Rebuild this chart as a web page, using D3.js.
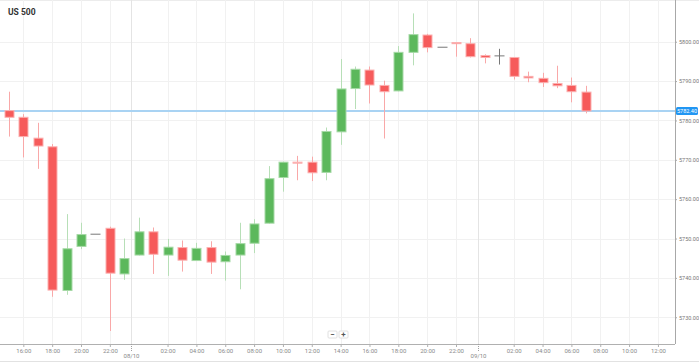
<!DOCTYPE html>
<html>
<head>
<meta charset="utf-8">
<script src="https://cdn.jsdelivr.net/npm/d3@7"></script>
<style>
  body { margin: 0; background: #fff; }
  svg { display: block; font-family: Roboto, "Liberation Sans", Arial, sans-serif; }
</style>
</head>
<body>
<svg id="chart" width="699" height="363"></svg>
<script>
"use strict";

// hourly candles, US 500
const times = [
  "2024-10-07T15:00", "2024-10-07T16:00", "2024-10-07T17:00", "2024-10-07T18:00",
  "2024-10-07T19:00", "2024-10-07T20:00", "2024-10-07T21:00", "2024-10-07T22:00",
  "2024-10-07T23:00", "2024-10-08T00:00", "2024-10-08T01:00", "2024-10-08T02:00",
  "2024-10-08T03:00", "2024-10-08T04:00", "2024-10-08T05:00", "2024-10-08T06:00",
  "2024-10-08T07:00", "2024-10-08T08:00", "2024-10-08T09:00", "2024-10-08T10:00",
  "2024-10-08T11:00", "2024-10-08T12:00", "2024-10-08T13:00", "2024-10-08T14:00",
  "2024-10-08T15:00", "2024-10-08T16:00", "2024-10-08T17:00", "2024-10-08T18:00",
  "2024-10-08T19:00", "2024-10-08T20:00", "2024-10-08T21:00", "2024-10-08T22:00",
  "2024-10-08T23:00", "2024-10-09T00:00", "2024-10-09T01:00", "2024-10-09T02:00",
  "2024-10-09T03:00", "2024-10-09T04:00", "2024-10-09T05:00", "2024-10-09T06:00",
  "2024-10-09T07:00",
];
const opens = [
  5782.5, 5780.8, 5775.5, 5773.3, 5736.8, 5748.0, 5751.1, 5752.6, 5741.0, 5745.8,
  5751.7, 5745.8, 5747.7, 5744.4, 5747.7, 5744.1, 5745.8, 5748.8, 5753.9, 5765.5,
  5769.4, 5769.4, 5766.8, 5777.1, 5788.1, 5792.8, 5788.9, 5787.5, 5797.3, 5801.7,
  5798.6, 5799.8, 5799.5, 5796.5, 5796.4, 5796.0, 5791.2, 5790.7, 5789.4, 5788.9,
  5787.2,
];
const highs = [
  5787.3, 5781.6, 5779.4, 5774.0, 5756.2, 5754.0, 5751.1, 5753.0, 5750.0, 5755.3,
  5752.8, 5749.9, 5749.5, 5748.9, 5749.3, 5746.7, 5754.0, 5754.9, 5768.4, 5769.5,
  5771.0, 5770.8, 5778.2, 5795.6, 5793.7, 5793.7, 5790.1, 5798.9, 5807.2, 5802.0,
  5798.6, 5799.8, 5800.9, 5796.8, 5798.2, 5796.0, 5792.4, 5792.1, 5793.9, 5790.9,
  5788.8,
];
const lows = [
  5775.9, 5770.6, 5767.7, 5735.2, 5735.7, 5747.3, 5751.1, 5726.5, 5739.5, 5745.7,
  5741.0, 5740.5, 5741.6, 5744.3, 5741.0, 5739.3, 5737.1, 5746.3, 5753.8, 5761.9,
  5764.8, 5764.6, 5764.8, 5773.8, 5782.9, 5784.3, 5775.4, 5787.4, 5794.0, 5797.3,
  5798.6, 5796.2, 5796.0, 5794.5, 5794.2, 5790.4, 5789.7, 5788.5, 5788.2, 5784.6,
  5781.8,
];
const closes = [
  5780.8, 5775.9, 5773.5, 5736.9, 5747.4, 5751.0, 5751.1, 5741.2, 5744.9, 5751.7,
  5746.0, 5747.8, 5744.5, 5747.5, 5744.0, 5745.7, 5748.7, 5753.7, 5765.2, 5769.4,
  5769.3, 5766.7, 5777.2, 5788.0, 5793.0, 5789.0, 5787.3, 5797.3, 5801.8, 5798.5,
  5798.6, 5799.5, 5796.2, 5796.0, 5796.4, 5791.2, 5790.8, 5789.6, 5788.8, 5787.3,
  5782.4,
];

const priceTicks = [5730, 5740, 5750, 5760, 5770, 5780, 5790, 5800];
const dayBreaks = ["2024-10-07T23:30", "2024-10-08T23:30"];
const dayLabels = ["08/10", "09/10"];
const timeDomain = ["2024-10-07T14:23", "2024-10-09T13:11"];
const priceDomain = [5723.2, 5810.6];
const title = "US 500";

const parse = d3.timeParse("%Y-%m-%dT%H:%M");

const width = 699;
const plotRight = 675;
const plotBottom = 344;

const svg = d3.select("#chart");

const x = d3.scaleTime().domain(timeDomain.map(parse)).range([0, plotRight]);
const y = d3.scaleLinear().domain(priceDomain).range([plotBottom, 0]);

const candles = times.map((t, i) => ({
  t: parse(t),
  o: opens[i],
  h: highs[i],
  l: lows[i],
  c: closes[i],
}));

// even hours, midnight is replaced by the date label
const hourTicks = d3.timeHour
  .every(2)
  .range(x.domain()[0], x.domain()[1])
  .filter((d) => d.getHours() !== 0);

// frame lines
svg.append("line")
  .attr("x1", 0).attr("x2", width).attr("y1", 0.5).attr("y2", 0.5)
  .attr("stroke", "#ececec");
svg.append("line")
  .attr("x1", 0).attr("x2", width).attr("y1", 361.5).attr("y2", 361.5)
  .attr("stroke", "#e2e2e2");

// grid
const grid = svg.append("g");
grid.selectAll("line.h")
  .data(priceTicks)
  .enter()
  .append("line")
  .attr("x1", 0).attr("x2", plotRight)
  .attr("y1", (d) => Math.round(y(d)) + 0.5)
  .attr("y2", (d) => Math.round(y(d)) + 0.5)
  .attr("stroke", "#f1f1f1");
grid.selectAll("line.v")
  .data(hourTicks)
  .enter()
  .append("line")
  .attr("x1", (d) => Math.round(x(d)) + 0.5)
  .attr("x2", (d) => Math.round(x(d)) + 0.5)
  .attr("y1", 0).attr("y2", plotBottom)
  .attr("stroke", "#f1f1f1");
grid.selectAll("line.day")
  .data(dayBreaks.map(parse))
  .enter()
  .append("line")
  .attr("x1", (d) => Math.round(x(d)) + 0.5)
  .attr("x2", (d) => Math.round(x(d)) + 0.5)
  .attr("y1", 0).attr("y2", plotBottom)
  .attr("stroke", "#e4e4e4");

// current price line
const last = candles[candles.length - 1].c;
svg.append("line")
  .attr("x1", 0).attr("x2", plotRight)
  .attr("y1", y(last)).attr("y2", y(last))
  .attr("stroke", "#a9d3f3")
  .attr("stroke-width", 2);

// candles
const red = { fill: "#f65b5b", stroke: "#fbb0b0", wick: "#f9a8a8" };
const green = { fill: "#5cb85c", stroke: "#a6d9a6", wick: "#b7dfb7" };
const gray = { fill: "#777", stroke: "#777", wick: "#777" };
const colorOf = (d) => (d.c > d.o ? green : d.c < d.o ? red : gray);
const bodyW = 9;

const cg = svg.append("g")
  .selectAll("g")
  .data(candles)
  .enter()
  .append("g");

cg.filter((d) => d.h > d.l)
  .append("line")
  .attr("x1", (d) => Math.round(x(d.t)) + 0.5)
  .attr("x2", (d) => Math.round(x(d.t)) + 0.5)
  .attr("y1", (d) => y(d.h))
  .attr("y2", (d) => y(d.l))
  .attr("stroke", (d) => colorOf(d).wick);

cg.filter((d) => d.c !== d.o)
  .append("rect")
  .attr("x", (d) => Math.round(x(d.t)) - bodyW / 2 + 0.5)
  .attr("y", (d) => y(Math.max(d.o, d.c)))
  .attr("width", bodyW)
  .attr("height", (d) => Math.max(1, Math.abs(y(d.o) - y(d.c))))
  .attr("fill", (d) => colorOf(d).fill)
  .attr("stroke", (d) => colorOf(d).stroke)
  .attr("stroke-width", 1);

cg.filter((d) => d.c === d.o)
  .append("line")
  .attr("x1", (d) => Math.round(x(d.t)) - bodyW / 2)
  .attr("x2", (d) => Math.round(x(d.t)) + bodyW / 2 + 1)
  .attr("y1", (d) => y(d.o))
  .attr("y2", (d) => y(d.o))
  .attr("stroke", "#777")
  .attr("stroke-width", 1);

// x axis
const xAxis = svg.append("g")
  .attr("transform", `translate(0,${plotBottom})`)
  .call(
    d3.axisBottom(x)
      .tickValues(hourTicks)
      .tickFormat(d3.timeFormat("%H:%M"))
      .tickSize(3)
      .tickSizeOuter(0)
      .tickPadding(2)
  );
xAxis.select(".domain").attr("stroke", "#b0b0b0").attr("d", `M0,0.5H${plotRight}`);
xAxis.selectAll(".tick line").attr("stroke", "#b0b0b0");
xAxis.selectAll(".tick text")
  .attr("fill", "#8a8a8a")
  .attr("font-size", 6)
  .attr("font-family", "Roboto, Arial, sans-serif");

// day markers
const days = svg.append("g")
  .selectAll("g")
  .data(dayBreaks.map(parse))
  .enter()
  .append("g")
  .attr("transform", (d) => `translate(${Math.round(x(d)) + 0.5},${plotBottom})`);
days.append("line")
  .attr("y1", 0).attr("y2", 7)
  .attr("stroke", "#a0a0a0")
  .attr("stroke-dasharray", "1,1");
days.append("text")
  .attr("y", 14)
  .attr("text-anchor", "middle")
  .attr("fill", "#8a8a8a")
  .attr("font-size", 6)
  .text((d, i) => dayLabels[i]);

// y axis
const yAxis = svg.append("g")
  .attr("transform", `translate(${plotRight},0)`)
  .call(
    d3.axisRight(y)
      .tickValues(priceTicks)
      .tickFormat(d3.format(".2f"))
      .tickSize(2)
      .tickSizeOuter(0)
      .tickPadding(2)
  );
yAxis.select(".domain").attr("stroke", "#a8a8a8").attr("d", `M0.5,0V${plotBottom}`);
yAxis.selectAll(".tick line").attr("stroke", "#a8a8a8");
yAxis.selectAll(".tick text")
  .attr("fill", "#777")
  .attr("font-size", 5.5)
  .attr("font-family", "Roboto, Arial, sans-serif");

// current price badge
const badge = svg.append("g").attr("transform", `translate(${plotRight + 1},${y(last)})`);
badge.append("rect")
  .attr("x", 0).attr("y", -4)
  .attr("width", 22).attr("height", 8)
  .attr("rx", 1.5)
  .attr("fill", "#2196f3");
badge.append("text")
  .attr("x", 11).attr("y", 0)
  .attr("dy", "0.35em")
  .attr("text-anchor", "middle")
  .attr("fill", "#fff")
  .attr("font-size", 5.5)
  .text(d3.format(".2f")(last));

// title
svg.append("text")
  .attr("x", 8).attr("y", 15)
  .attr("font-size", 8.5)
  .attr("font-weight", "bold")
  .attr("fill", "#333")
  .text(title);

// zoom buttons
const zb = svg.append("g").attr("transform", "translate(328,331)");
["\u2212", "+"].forEach((s, i) => {
  const b = zb.append("g").attr("transform", `translate(${i * 11},0)`);
  b.append("rect")
    .attr("width", 9).attr("height", 7)
    .attr("rx", 1)
    .attr("fill", "#fff")
    .attr("stroke", "#e0e0e0");
  b.append("text")
    .attr("x", 4.5).attr("y", 3.5)
    .attr("dy", "0.35em")
    .attr("text-anchor", "middle")
    .attr("font-size", 8)
    .attr("font-weight", "bold")
    .attr("fill", "#555")
    .text(s);
});
</script>
</body>
</html>
